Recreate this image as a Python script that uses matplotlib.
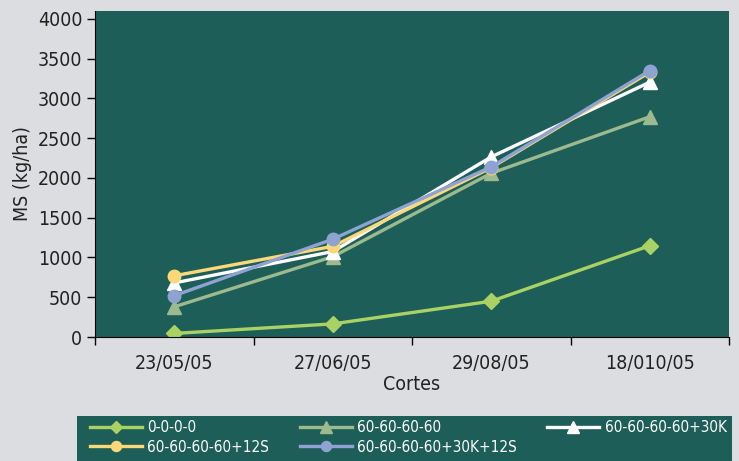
import numpy as np
import matplotlib.pyplot as plt
from matplotlib.patches import Rectangle

plt.rcParams['font.family'] = ['DejaVu Sans']
plt.rcParams['font.stretch'] = 'condensed'

cortes = ['23/05/05', '27/06/05', '29/08/05', '18/010/05']
s0000 = [45, 165, 450, 1148]
s6060 = [380, 1010, 2060, 2770]
s30k = [680, 1075, 2265, 3205]
s12s = [770, 1140, 2130, 3330]
s30k12s = [520, 1230, 2140, 3350]

bg = '#1d5f58'
figbg = '#dcdde1'
W, H = 739, 461

fig = plt.figure(figsize=(W/100, H/100), dpi=100, facecolor=figbg)
ax = fig.add_axes([95/W, 124/H, 634/W, 326/H])
ax.set_facecolor(bg)

x = np.arange(len(cortes))
lw = 2.4
l1, = ax.plot(x, s0000, color='#a9d164', lw=lw, marker='D', ms=8, label='0-0-0-0')
l2, = ax.plot(x, s6060, color='#9dba8e', lw=lw, marker='^', ms=10, label='60-60-60-60')
l3, = ax.plot(x, s30k, color='white', lw=lw, marker='^', ms=10, label='60-60-60-60+30K')
l4, = ax.plot(x, s12s, color='#fdd878', lw=lw, marker='o', ms=9, label='60-60-60-60+12S')
l5, = ax.plot(x, s30k12s, color='#8fa3d3', lw=lw, marker='o', ms=9, label='60-60-60-60+30K+12S')

ax.set_xlim(-0.5, 3.5)
ax.set_ylim(0, 4100)
ax.set_yticks(np.arange(0, 4001, 500))
ax.set_xticks(np.arange(-0.5, 3.6, 1))
ax.set_xticklabels([])
ax.set_xticks(x, minor=True)
ax.set_xticklabels(cortes, minor=True)
ax.tick_params(axis='x', which='minor', length=0, pad=12, labelsize=14, colors='#222222')
ax.tick_params(axis='x', which='major', length=6, width=1, direction='out')
ax.tick_params(axis='y', length=6, width=1, labelsize=14, pad=3, labelcolor='#222222')
for sp in ['top', 'right']:
    ax.spines[sp].set_visible(False)
ax.spines['left'].set_color('black')
ax.spines['bottom'].set_color('black')

ax.set_ylabel('MS (kg/ha)', fontsize=14, color='#222222', labelpad=4)
ax.set_xlabel('Cortes', fontsize=14, color='#222222', labelpad=2)

# legend box drawn separately
fig.patches.append(Rectangle((77/W, 0), 655/W, 45/H, transform=fig.transFigure,
                             facecolor=bg, edgecolor='none', zorder=0))

# picture is row-major, matplotlib fills columns first
hs = [l1, l4, l2, l5, l3]
leg = fig.legend(hs, [h.get_label() for h in hs], ncol=3, loc='center left',
                 bbox_to_anchor=(90/W, 1 - 437.5/H), borderaxespad=0, borderpad=0,
                 fontsize=11, frameon=False, handlelength=3.4, handletextpad=0.35,
                 labelspacing=0.3, columnspacing=2.0, markerscale=0.8)
for t in leg.get_texts():
    t.set_color('white')

fig.savefig('out.png', dpi=100, facecolor=figbg)
